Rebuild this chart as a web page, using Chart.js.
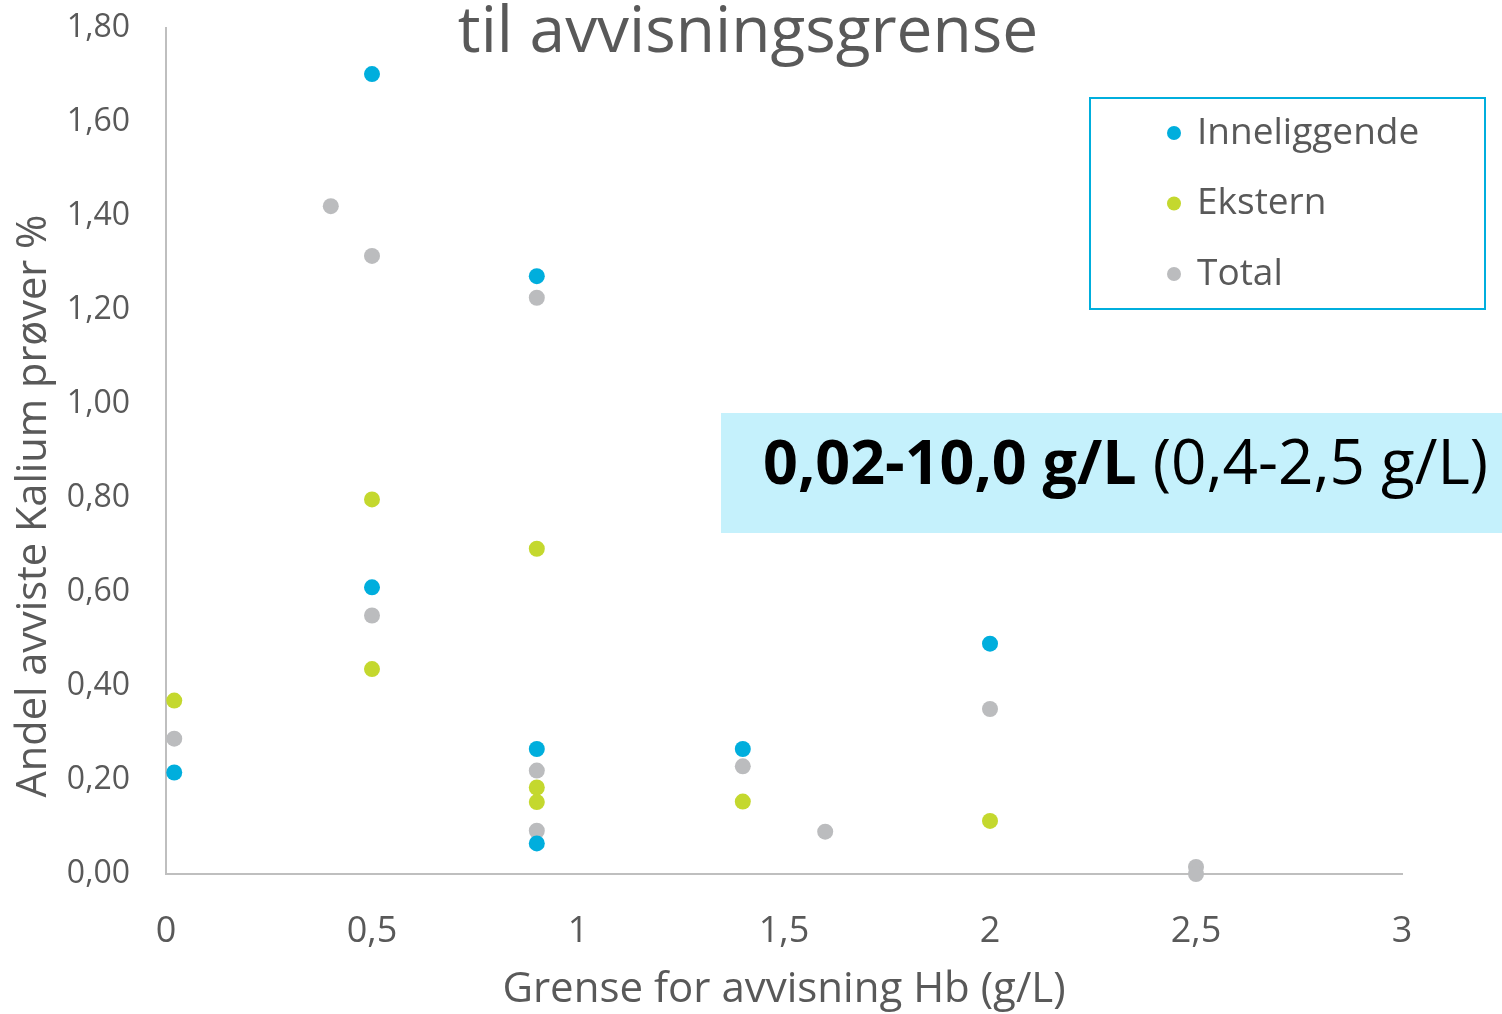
<!DOCTYPE html>
<html>
<head>
<meta charset="utf-8">
<script src="https://cdn.jsdelivr.net/npm/chart.js@4"></script>
<style>
  body { margin: 0; background: #fff; }
  #wrap { width: 1502px; height: 1014px; }
</style>
</head>
<body>
<div id="wrap"><canvas id="kalium-chart" width="1502" height="1014"></canvas></div>
<script>
// Data
const seriesNames = ['Inneliggende', 'Ekstern', 'Total'];
const seriesColors = ['#00AEDD', '#C4D82E', '#BBBCBE'];

const inneliggendeX = [0.02, 0.5, 0.5, 0.9, 0.9, 0.9, 1.4, 2.0];
const inneliggendeY = [0.216, 1.702, 0.610, 1.272, 0.266, 0.065, 0.266, 0.490];

const eksternX = [0.02, 0.5, 0.5, 0.9, 0.9, 0.9, 1.4, 2.0];
const eksternY = [0.369, 0.797, 0.436, 0.692, 0.184, 0.153, 0.154, 0.113];

const totalX = [0.02, 0.4, 0.5, 0.5, 0.9, 0.9, 0.9, 1.4, 1.6, 2.0, 2.5, 2.5];
const totalY = [0.288, 1.421, 1.315, 0.550, 1.226, 0.220, 0.092, 0.229, 0.090, 0.351, 0.015, 0.0];

const xTicks = [0, 0.5, 1, 1.5, 2, 2.5, 3];
const yTicks = [0, 0.2, 0.4, 0.6, 0.8, 1.0, 1.2, 1.4, 1.6, 1.8];

const chartTitle = 'til avvisningsgrense';
const xTitle = 'Grense for avvisning Hb (g/L)';
const yTitle = 'Andel avviste Kalium prøver %';
const noteBold = '0,02-10,0 g/L';
const noteNormal = ' (0,4-2,5 g/L)';

const FONT = "'Open Sans', sans-serif";
const TEXT = '#595959';

function toPoints(xs, ys) {
  return xs.map((x, i) => ({ x: x, y: ys[i] }));
}

// no extra room for the end labels, the axes sit where the original has them
function fixPadding(scale) {
  scale.paddingTop = 0;
  scale.paddingBottom = 0;
  scale.paddingLeft = 0;
  scale.paddingRight = 0;
}

// Texts, legend and the blue note box are drawn by hand
const extras = {
  id: 'extras',
  afterDraw(chart) {
    const ctx = chart.ctx;
    const area = chart.chartArea;
    ctx.save();

    // title (cut off at the top like the original)
    ctx.fillStyle = TEXT;
    ctx.font = '64px ' + FONT;
    ctx.textAlign = 'center';
    ctx.textBaseline = 'alphabetic';
    ctx.fillText(chartTitle, 748, 52);

    // axis titles
    ctx.font = '42px ' + FONT;
    ctx.fillText(xTitle, (area.left + area.right) / 2, 1002);
    ctx.save();
    ctx.translate(46, 506);
    ctx.rotate(-Math.PI / 2);
    ctx.font = '41.5px ' + FONT;
    ctx.fillText(yTitle, 0, 0);
    ctx.restore();

    // note box
    ctx.fillStyle = '#C5F1FC';
    ctx.fillRect(721, 413, 781, 120);
    ctx.fillStyle = '#000';
    ctx.textAlign = 'left';
    ctx.font = 'bold 61px ' + FONT;
    ctx.fillText(noteBold, 763, 484);
    const w = ctx.measureText(noteBold).width;
    ctx.font = '62px ' + FONT;
    ctx.fillText(noteNormal, 763 + w, 484);

    // legend
    ctx.fillStyle = '#fff';
    ctx.fillRect(1090, 98, 395, 211);
    ctx.strokeStyle = '#00AEDD';
    ctx.lineWidth = 2;
    ctx.strokeRect(1090, 98, 395, 211);
    ctx.font = '37px ' + FONT;
    ctx.textBaseline = 'middle';
    chart.data.datasets.forEach((ds, i) => {
      const y = 133 + i * 70.5;
      ctx.fillStyle = ds.backgroundColor;
      ctx.beginPath();
      ctx.arc(1174, y, 7, 0, Math.PI * 2);
      ctx.fill();
      ctx.fillStyle = TEXT;
      ctx.fillText(ds.label, 1197, y);
    });

    ctx.restore();
  }
};

new Chart('kalium-chart', {
  type: 'scatter',
  data: {
    datasets: [
      { label: seriesNames[0], data: toPoints(inneliggendeX, inneliggendeY), backgroundColor: seriesColors[0] },
      { label: seriesNames[1], data: toPoints(eksternX, eksternY), backgroundColor: seriesColors[1] },
      { label: seriesNames[2], data: toPoints(totalX, totalY), backgroundColor: seriesColors[2] }
    ]
  },
  options: {
    responsive: false,
    animation: false,
    layout: { padding: { top: 28, right: 100, left: 0, bottom: 0 } },
    elements: { point: { radius: 8, borderWidth: 0, hoverRadius: 8 } },
    datasets: { scatter: { clip: false } },
    plugins: { legend: { display: false }, tooltip: { enabled: false } },
    scales: {
      x: {
        type: 'linear',
        min: 0, max: 3,
        afterFit: scale => { scale.height = 140; fixPadding(scale); },
        afterBuildTicks: scale => { scale.ticks = xTicks.map(v => ({ value: v })); },
        grid: { display: false, drawTicks: false },
        border: { display: true, color: '#BFBFBF', width: 2 },
        ticks: {
          padding: 36,
          color: TEXT,
          font: { family: FONT, size: 36 },
          callback: v => String(v).replace('.', ',')
        }
      },
      y: {
        type: 'linear',
        min: 0, max: 1.8,
        afterFit: scale => { scale.width = 166; fixPadding(scale); },
        afterBuildTicks: scale => { scale.ticks = yTicks.map(v => ({ value: v })); },
        grid: { display: false, drawTicks: false },
        border: { display: true, color: '#BFBFBF', width: 2 },
        ticks: {
          padding: 36,
          color: TEXT,
          font: { family: FONT, size: 32 },
          callback: v => v.toFixed(2).replace('.', ',')
        }
      }
    }
  },
  plugins: [extras]
});
</script>
</body>
</html>
